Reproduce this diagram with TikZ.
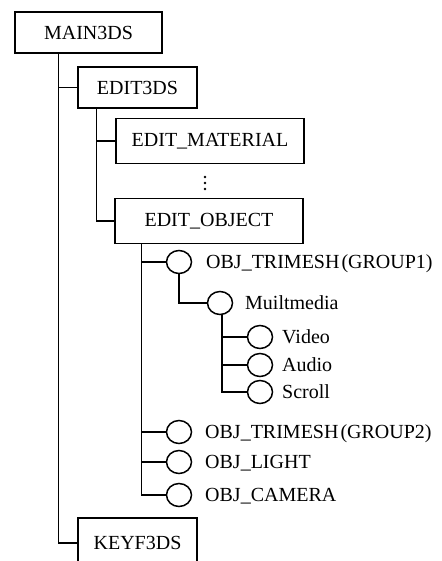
\documentclass[tikz,border=0pt]{standalone}
\usepackage{fontspec}
\setmainfont{Liberation Serif}
\usetikzlibrary{shapes.geometric}
\begin{document}
\begin{tikzpicture}[x=1pt,y=-1pt,
  every node/.style={font=\fontsize{20}{22}\selectfont},
  box/.style={draw,line width=1.4pt,rectangle,inner sep=0pt},
  ring/.style={draw,line width=1.5pt,ellipse,inner sep=0pt,minimum width=25pt,minimum height=23pt},
  lbl/.style={inner sep=0pt,anchor=base west},
  conn/.style={line width=1.4pt}]
\useasboundingbox (0,0) rectangle (441,561);
\clip (0,0) rectangle (441,561);
% boxes
\node[box,minimum width=147pt,minimum height=41pt] (main) at (88.5,32.5) {MAIN3DS};
\node[box,minimum width=119pt,minimum height=41pt] (edit3ds) at (137.5,87.5) {EDIT3DS};
\node[box,minimum width=188pt,minimum height=45pt] (editmat) at (210,141) {EDIT\_MATERIAL};
\node[box,minimum width=188pt,minimum height=45pt] (editobj) at (209,221) {EDIT\_OBJECT};
\node[box,minimum width=119pt,minimum height=50pt] (keyf) at (137.5,543) {KEYF3DS};
% dots
\fill (205,177) circle (1.3pt) (205,183) circle (1.3pt) (205,189) circle (1.3pt);
% circles
\node[ring] (g1) at (179,262) {};
\node[ring] (mm) at (220,303) {};
\node[ring] (vid) at (260,337) {};
\node[ring] (aud) at (260,365) {};
\node[ring] (scr) at (260,392) {};
\node[ring] (g2) at (179,432) {};
\node[ring] (light) at (179,462) {};
\node[ring] (cam) at (179,495) {};
% labels
\node[lbl] (g1t) at (206,268.5) {OBJ\_TRIMESH\hspace{0.1em}(GROUP1)};
\node[lbl] (mmt) at (245,309.5) {Muiltmedia};
\node[lbl] (vidt) at (282,343.5) {Video};
\node[lbl] (audt) at (282,371.5) {Audio};
\node[lbl] (scrt) at (282,398.5) {Scroll};
\node[lbl] (g2t) at (205,438.5) {OBJ\_TRIMESH\hspace{0.1em}(GROUP2)};
\node[lbl] (lightt) at (205,468.5) {OBJ\_LIGHT};
\node[lbl] (camt) at (205,501.5) {OBJ\_CAMERA};
% trunks
\coordinate (t0) at (58.3,53);
\coordinate (t1) at (96.7,108);
\coordinate (t2) at (141.7,243.5);
\draw[conn] (t0) |- (edit3ds.west);
\draw[conn] (t0) |- (keyf.west);
\draw[conn] (t1) |- (editmat.west);
\draw[conn] (t1) |- (editobj.west);
\draw[conn] (t2) |- (g1.west);
\draw[conn] (t2) |- (g2.west);
\draw[conn] (t2) |- (light.west);
\draw[conn] (t2) |- (cam.west);
\draw[conn] (g1.south) |- (mm.west);
\draw[conn] ([xshift=2pt]mm.south) |- (vid.west);
\draw[conn] ([xshift=2pt]mm.south) |- (aud.west);
\draw[conn] ([xshift=2pt]mm.south) |- (scr.west);
\end{tikzpicture}
\end{document}
